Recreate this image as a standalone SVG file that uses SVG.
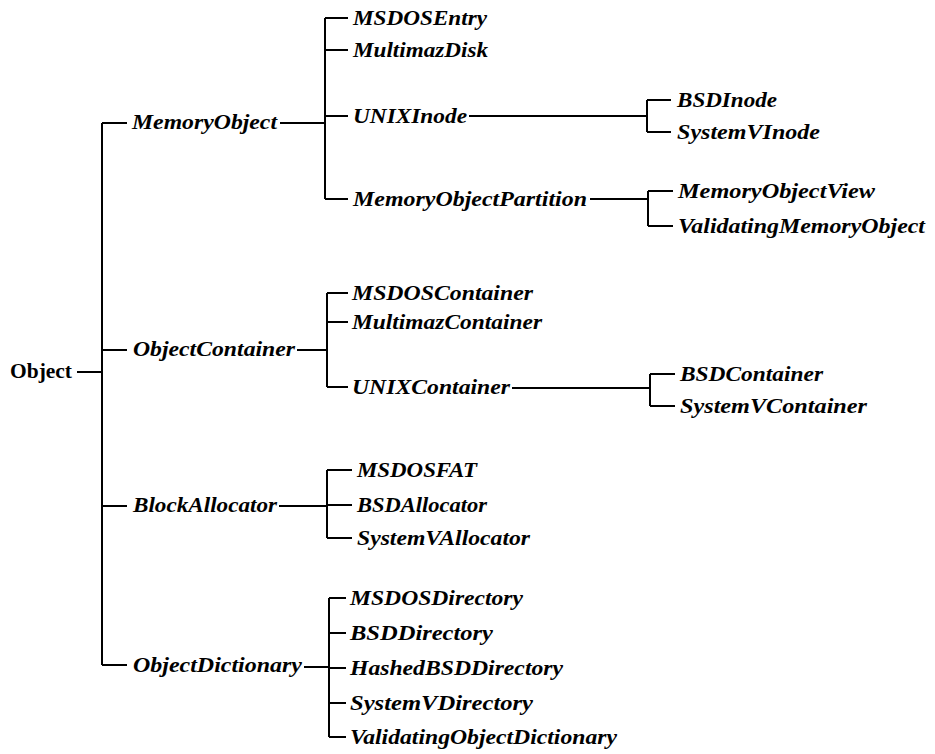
<svg xmlns="http://www.w3.org/2000/svg" width="935" height="754" viewBox="0 0 935 754">
<style>
  .c { fill: none; stroke: #000; stroke-width: 2; }
  .t { font-family: "Liberation Serif", "Times New Roman", serif; font-size: 20px; font-style: italic; font-weight: bold; fill: #000; }
  .r { font-family: "Liberation Serif", "Times New Roman", serif; font-size: 20px; font-weight: bold; fill: #000; }
</style>
<rect width="935" height="754" fill="#fff"/>
<g id="connectors">
  <!-- root -->
  <path class="c" d="M77 372 H102 M102 123 V665 M102 123 H127 M102 350 H127 M102 506 H127 M102 665 H127"/>
  <!-- MemoryObject -->
  <path class="c" d="M280 123 H325 M325 18 V199 M325 18 H348 M325 50 H348 M325 116 H348 M325 199 H348"/>
  <!-- UNIXInode -->
  <path class="c" d="M469 116 H647 M647 100 V132 M647 100 H671 M647 132 H671"/>
  <!-- MemoryObjectPartition -->
  <path class="c" d="M590 199 H648 M648 191 V226 M648 191 H673 M648 226 H673"/>
  <!-- ObjectContainer -->
  <path class="c" d="M297 350 H327 M327 293 V387 M327 293 H348 M327 322 H348 M327 387 H348"/>
  <!-- UNIXContainer -->
  <path class="c" d="M512 388 H650 M650 374 V406 M650 374 H675 M650 406 H675"/>
  <!-- BlockAllocator -->
  <path class="c" d="M279 506 H327 M327 470 V538 M327 470 H352 M327 505 H352 M327 538 H352"/>
  <!-- ObjectDictionary -->
  <path class="c" d="M304 667 H329 M329 598 V737 M329 598 H346 M329 633 H346 M329 668 H346 M329 703 H346 M329 737 H346"/>
</g>
<g id="Object"><text class="r" x="10" y="378" textLength="62" lengthAdjust="spacingAndGlyphs">Object</text></g>
<g id="MemoryObject"><text class="t" x="132" y="129" textLength="145" lengthAdjust="spacingAndGlyphs">MemoryObject</text></g>
<g id="ObjectContainer"><text class="t" x="133" y="356" textLength="162" lengthAdjust="spacingAndGlyphs">ObjectContainer</text></g>
<g id="BlockAllocator"><text class="t" x="133" y="512" textLength="144" lengthAdjust="spacingAndGlyphs">BlockAllocator</text></g>
<g id="ObjectDictionary"><text class="t" x="133" y="672" textLength="169" lengthAdjust="spacingAndGlyphs">ObjectDictionary</text></g>
<g id="MSDOSEntry"><text class="t" x="353" y="25" textLength="134" lengthAdjust="spacingAndGlyphs">MSDOSEntry</text></g>
<g id="MultimazDisk"><text class="t" x="353" y="57" textLength="135" lengthAdjust="spacingAndGlyphs">MultimazDisk</text></g>
<g id="UNIXInode"><text class="t" x="353" y="123" textLength="114" lengthAdjust="spacingAndGlyphs">UNIXInode</text></g>
<g id="MemoryObjectPartition"><text class="t" x="353" y="206" textLength="234" lengthAdjust="spacingAndGlyphs">MemoryObjectPartition</text></g>
<g id="BSDInode"><text class="t" x="677" y="107" textLength="100" lengthAdjust="spacingAndGlyphs">BSDInode</text></g>
<g id="SystemVInode"><text class="t" x="677" y="139" textLength="143" lengthAdjust="spacingAndGlyphs">SystemVInode</text></g>
<g id="MemoryObjectView"><text class="t" x="678" y="198" textLength="197" lengthAdjust="spacingAndGlyphs">MemoryObjectView</text></g>
<g id="ValidatingMemoryObject"><text class="t" x="678" y="233" textLength="247" lengthAdjust="spacingAndGlyphs">ValidatingMemoryObject</text></g>
<g id="MSDOSContainer"><text class="t" x="352" y="300" textLength="181" lengthAdjust="spacingAndGlyphs">MSDOSContainer</text></g>
<g id="MultimazContainer"><text class="t" x="352" y="329" textLength="190" lengthAdjust="spacingAndGlyphs">MultimazContainer</text></g>
<g id="UNIXContainer"><text class="t" x="352" y="394" textLength="158" lengthAdjust="spacingAndGlyphs">UNIXContainer</text></g>
<g id="BSDContainer"><text class="t" x="680" y="381" textLength="143" lengthAdjust="spacingAndGlyphs">BSDContainer</text></g>
<g id="SystemVContainer"><text class="t" x="680" y="413" textLength="187" lengthAdjust="spacingAndGlyphs">SystemVContainer</text></g>
<g id="MSDOSFAT"><text class="t" x="357" y="477" textLength="120" lengthAdjust="spacingAndGlyphs">MSDOSFAT</text></g>
<g id="BSDAllocator"><text class="t" x="357" y="512" textLength="130" lengthAdjust="spacingAndGlyphs">BSDAllocator</text></g>
<g id="SystemVAllocator"><text class="t" x="357" y="545" textLength="173" lengthAdjust="spacingAndGlyphs">SystemVAllocator</text></g>
<g id="MSDOSDirectory"><text class="t" x="350" y="605" textLength="173" lengthAdjust="spacingAndGlyphs">MSDOSDirectory</text></g>
<g id="BSDDirectory"><text class="t" x="350" y="640" textLength="143" lengthAdjust="spacingAndGlyphs">BSDDirectory</text></g>
<g id="HashedBSDDirectory"><text class="t" x="350" y="675" textLength="213" lengthAdjust="spacingAndGlyphs">HashedBSDDirectory</text></g>
<g id="SystemVDirectory"><text class="t" x="350" y="710" textLength="183" lengthAdjust="spacingAndGlyphs">SystemVDirectory</text></g>
<g id="ValidatingObjectDictionary"><text class="t" x="350" y="744" textLength="267" lengthAdjust="spacingAndGlyphs">ValidatingObjectDictionary</text></g>
</svg>
